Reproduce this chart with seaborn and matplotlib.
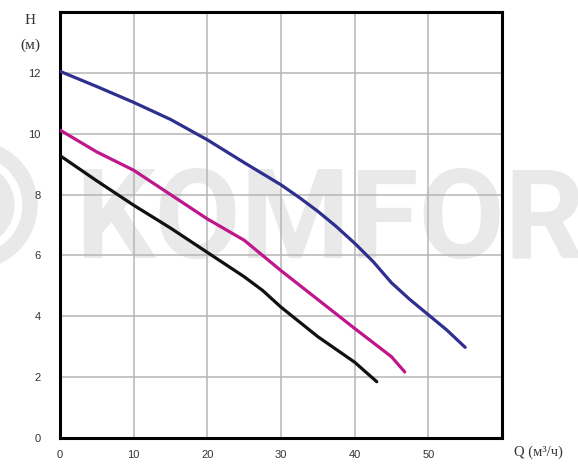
import numpy as np
import pandas as pd
import matplotlib.pyplot as plt
import matplotlib.patches as mpatches
import seaborn as sns

# ── data ─────────────────────────────────────────────────────
q_blue = [0, 5, 10, 15, 20, 25, 30, 32.5, 35, 37.5, 40, 42.5, 45, 47.5, 50, 52.5, 55]
h_blue = [12.05, 11.55, 11.03, 10.47, 9.8, 9.05, 8.32, 7.9, 7.45, 6.95, 6.4, 5.8, 5.1,
          4.55, 4.05, 3.55, 2.98]

q_pink = [0, 5, 10, 15, 20, 25, 30, 35, 40, 45, 46.8]
h_pink = [10.12, 9.4, 8.8, 8.0, 7.2, 6.5, 5.5, 4.55, 3.6, 2.67, 2.17]

q_black = [0, 5, 10, 15, 20, 25, 27.5, 30, 35, 40, 43]
h_black = [9.28, 8.45, 7.65, 6.9, 6.1, 5.3, 4.85, 4.3, 3.33, 2.49, 1.85]

x_ticks = [0, 10, 20, 30, 40, 50]
y_ticks = [0, 2, 4, 6, 8, 10, 12]

sns.set_style("white")
plt.rcParams["font.family"] = ["Liberation Sans", "DejaVu Sans"]

fig = plt.figure(figsize=(5.78, 4.67), dpi=100)
fig.patch.set_facecolor("white")
ax = fig.add_axes([60 / 578, 29 / 467, 442 / 578, 426 / 467])
ax.set_facecolor("none")

# ── watermark (logo rings + text, cut by the right edge as in the original) ──
wm = "#e9e9e9"
fig.text(75 / 578, 1 - 258 / 467, "KOMFORT", fontsize=90, fontweight="bold",
         color=wm, ha="left", va="baseline", zorder=-10, family=["Roboto"])
for r in [57, 34]:
    c = mpatches.Circle((-27, 467 - 205), r, transform=None, fill=False,
                        lw=11, ec=wm, zorder=-10)
    fig.patches.append(c)

# ── curves ──────────────────────────────────────────────────
for q, h, col in [(q_blue, h_blue, "#2e2f8e"),
                  (q_pink, h_pink, "#c0168b"),
                  (q_black, h_black, "#111111")]:
    sns.lineplot(x=q, y=h, ax=ax, color=col, lw=2.3, zorder=3)

ax.set_xlim(0, 60)
ax.set_ylim(0, 14)
ax.set_xticks(x_ticks)
ax.set_yticks(y_ticks)
ax.grid(True, color="#b5b5b5", lw=1.1)
ax.tick_params(length=0, labelsize=8, colors="#333333")
ax.tick_params(axis="y", pad=14)
ax.tick_params(axis="x", pad=9)
for s in ax.spines.values():
    s.set_visible(True)
    s.set_color("black")
    s.set_linewidth(2.2)

fig.text(30 / 578, 1 - 20 / 467, "H", fontsize=11, ha="center", va="center",
         family=["Liberation Serif"], color="#333333")
fig.text(30 / 578, 1 - 45 / 467, "(м)", fontsize=11, ha="center", va="center",
         family=["Liberation Serif"], color="#333333")
fig.text(514 / 578, 1 - 452 / 467, "Q (м³/ч)", fontsize=10.5, ha="left",
         va="center", family=["Liberation Serif"], color="#333333")

plt.savefig("out.png", dpi=100)
